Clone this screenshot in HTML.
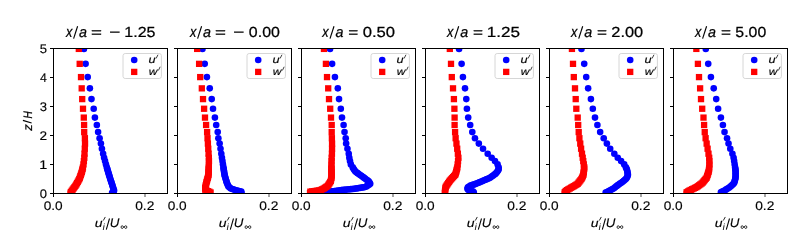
<!DOCTYPE html><html><head><meta charset="utf-8"><style>html,body{margin:0;padding:0;background:#fff;overflow:hidden}svg{display:block;will-change:transform}text{font-family:"Liberation Sans",sans-serif;fill:#000;stroke:#000;stroke-width:0.14px;text-rendering:geometricPrecision}.tt text{stroke-width:0.24px}</style></head><body>
<svg width="800" height="236" viewBox="0 0 800 236">
<defs><clipPath id="c0"><rect x="53.5" y="48.5" width="114" height="145"/></clipPath></defs>
<g clip-path="url(#c0)"><g fill="#0000ff"><circle cx="83.94" cy="48.90" r="3.3"/><circle cx="85.61" cy="63.85" r="3.3"/><circle cx="87.72" cy="77.10" r="3.3"/><circle cx="89.89" cy="88.35" r="3.3"/><circle cx="91.50" cy="99.10" r="3.3"/><circle cx="93.71" cy="108.75" r="3.3"/><circle cx="94.90" cy="117.60" r="3.3"/><circle cx="96.84" cy="125.00" r="3.3"/><circle cx="98.10" cy="132.10" r="3.3"/><circle cx="99.60" cy="138.20" r="3.3"/><circle cx="100.92" cy="143.60" r="3.3"/><circle cx="101.92" cy="148.70" r="3.3"/><circle cx="103.13" cy="153.70" r="3.3"/><circle cx="104.11" cy="157.75" r="3.3"/><circle cx="105.04" cy="161.10" r="3.3"/><circle cx="105.96" cy="164.40" r="3.3"/><circle cx="106.82" cy="167.40" r="3.3"/><circle cx="107.25" cy="168.85" r="3.3"/><circle cx="107.68" cy="170.30" r="3.3"/><circle cx="108.11" cy="171.75" r="3.3"/><circle cx="108.54" cy="173.20" r="3.3"/><circle cx="108.98" cy="174.65" r="3.3"/><circle cx="109.42" cy="176.10" r="3.3"/><circle cx="109.85" cy="177.55" r="3.3"/><circle cx="110.30" cy="179.00" r="3.3"/><circle cx="110.78" cy="180.45" r="3.3"/><circle cx="111.27" cy="181.90" r="3.3"/><circle cx="111.75" cy="183.35" r="3.3"/><circle cx="112.23" cy="184.80" r="3.3"/><circle cx="112.68" cy="186.25" r="3.3"/><circle cx="113.11" cy="187.70" r="3.3"/><circle cx="113.55" cy="189.15" r="3.3"/><circle cx="114.08" cy="190.60" r="3.3"/><circle cx="113.46" cy="192.05" r="3.3"/><circle cx="112.10" cy="192.85" r="3.3"/></g><g fill="#ff0000"><rect x="75.67" y="45.75" width="6.3" height="6.3"/><rect x="76.55" y="60.70" width="6.3" height="6.3"/><rect x="77.86" y="73.95" width="6.3" height="6.3"/><rect x="78.55" y="85.20" width="6.3" height="6.3"/><rect x="79.06" y="95.95" width="6.3" height="6.3"/><rect x="79.85" y="105.60" width="6.3" height="6.3"/><rect x="80.65" y="114.45" width="6.3" height="6.3"/><rect x="80.95" y="121.85" width="6.3" height="6.3"/><rect x="81.06" y="128.95" width="6.3" height="6.3"/><rect x="81.75" y="135.05" width="6.3" height="6.3"/><rect x="81.88" y="140.45" width="6.3" height="6.3"/><rect x="81.65" y="145.55" width="6.3" height="6.3"/><rect x="81.37" y="150.55" width="6.3" height="6.3"/><rect x="81.14" y="154.60" width="6.3" height="6.3"/><rect x="80.74" y="157.95" width="6.3" height="6.3"/><rect x="80.34" y="161.25" width="6.3" height="6.3"/><rect x="79.80" y="164.25" width="6.3" height="6.3"/><rect x="79.42" y="165.75" width="6.3" height="6.3"/><rect x="79.05" y="167.25" width="6.3" height="6.3"/><rect x="78.67" y="168.75" width="6.3" height="6.3"/><rect x="78.22" y="170.20" width="6.3" height="6.3"/><rect x="77.71" y="171.65" width="6.3" height="6.3"/><rect x="77.21" y="173.10" width="6.3" height="6.3"/><rect x="76.70" y="174.55" width="6.3" height="6.3"/><rect x="76.13" y="175.95" width="6.3" height="6.3"/><rect x="75.38" y="177.30" width="6.3" height="6.3"/><rect x="74.63" y="178.65" width="6.3" height="6.3"/><rect x="73.88" y="180.00" width="6.3" height="6.3"/><rect x="73.13" y="181.35" width="6.3" height="6.3"/><rect x="72.27" y="182.65" width="6.3" height="6.3"/><rect x="71.36" y="183.90" width="6.3" height="6.3"/><rect x="70.46" y="185.15" width="6.3" height="6.3"/><rect x="69.54" y="186.40" width="6.3" height="6.3"/><rect x="68.61" y="187.65" width="6.3" height="6.3"/><rect x="67.68" y="188.90" width="6.3" height="6.3"/><rect x="67.35" y="190.40" width="6.3" height="6.3"/></g></g>
<rect x="53.5" y="48.5" width="114" height="145" fill="none" stroke="#000" stroke-width="1"/>
<line x1="50.0" y1="193.5" x2="53.5" y2="193.5" stroke="#000" stroke-width="1"/>
<line x1="50.0" y1="164.5" x2="53.5" y2="164.5" stroke="#000" stroke-width="1"/>
<line x1="50.0" y1="135.5" x2="53.5" y2="135.5" stroke="#000" stroke-width="1"/>
<line x1="50.0" y1="106.5" x2="53.5" y2="106.5" stroke="#000" stroke-width="1"/>
<line x1="50.0" y1="77.5" x2="53.5" y2="77.5" stroke="#000" stroke-width="1"/>
<line x1="50.0" y1="48.5" x2="53.5" y2="48.5" stroke="#000" stroke-width="1"/>
<line x1="53.50" y1="193.5" x2="53.50" y2="197" stroke="#000" stroke-width="1"/>
<text transform="translate(43.70,209.90) scale(1.091,1)" font-size="12.50">0.0</text>
<line x1="145.00" y1="193.5" x2="145.00" y2="197" stroke="#000" stroke-width="0.7"/>
<text transform="translate(135.20,209.90) scale(1.102,1)" font-size="12.50">0.2</text>
<g class="tt">
<text transform="translate(65.91,36.90) scale(0.826,1)" font-size="15.36" font-style="italic">x</text>
<line x1="73.60" y1="38.6" x2="77.60" y2="26.3" stroke="#000" stroke-width="1.15"/>
<text transform="translate(79.08,36.75) scale(0.973,1)" font-size="14.79" font-style="italic">a</text>
<text transform="translate(91.06,36.79) scale(1.345,1)" font-size="13.95">=</text>
<text transform="translate(109.15,37.42) scale(1.310,1)" font-size="14.48">−</text>
<text transform="translate(124.30,36.75) scale(1.100,1)" font-size="14.56">1.25</text>
</g>
<text transform="translate(94.80,227.38) scale(1.177,1)" font-size="11.91" font-style="italic">u</text>
<path d="M103.50,220.2 L105.10,217.3" stroke="#000" stroke-width="0.85" stroke-linecap="round" fill="none"/>
<text transform="translate(102.75,230.30) scale(0.932,1)" font-size="8.97" font-style="italic">i</text>
<line x1="106.30" y1="229.7" x2="109.50" y2="218.5" stroke="#000" stroke-width="1.05"/>
<text transform="translate(109.80,227.38) scale(1.069,1)" font-size="12.47" font-style="italic">U</text>
<path d="M123.95,227.1 C122.75,225.3 121.05,225.3 121.05,227.1 C121.05,228.9 122.75,228.9 123.95,227.1 C125.15,225.3 126.85,225.3 126.85,227.1 C126.85,228.9 125.15,228.9 123.95,227.1 Z" stroke="#000" stroke-width="0.8" fill="none"/>
<rect x="123.00" y="53.5" width="38.4" height="25.0" rx="2.2" fill="#fff" fill-opacity="0.8" stroke="#d6d6d6" stroke-width="1"/>
<circle cx="134.20" cy="60" r="3.3" fill="#0000ff"/>
<rect x="131.05" y="68.75" width="6.3" height="6.3" fill="#ff0000"/>
<text transform="translate(148.56,62.80) scale(1.228,1)" font-size="10.42" font-style="italic">u</text>
<path d="M156.30,58.1 L157.80,55.1" stroke="#000" stroke-width="0.75" stroke-linecap="round" fill="none"/>
<text transform="translate(148.80,74.80) scale(1.151,1)" font-size="10.43" font-style="italic">w</text>
<path d="M158.60,70.1 L160.00,67.1" stroke="#000" stroke-width="0.75" stroke-linecap="round" fill="none"/>
<defs><clipPath id="c1"><rect x="177.5" y="48.5" width="114" height="145"/></clipPath></defs>
<g clip-path="url(#c1)"><g fill="#0000ff"><circle cx="202.46" cy="48.90" r="3.3"/><circle cx="204.72" cy="63.85" r="3.3"/><circle cx="206.93" cy="77.10" r="3.3"/><circle cx="209.73" cy="88.35" r="3.3"/><circle cx="211.71" cy="99.10" r="3.3"/><circle cx="213.01" cy="108.75" r="3.3"/><circle cx="214.90" cy="117.60" r="3.3"/><circle cx="216.20" cy="125.00" r="3.3"/><circle cx="217.70" cy="132.10" r="3.3"/><circle cx="218.37" cy="138.20" r="3.3"/><circle cx="219.63" cy="143.60" r="3.3"/><circle cx="220.52" cy="148.70" r="3.3"/><circle cx="221.31" cy="153.70" r="3.3"/><circle cx="221.94" cy="157.75" r="3.3"/><circle cx="222.47" cy="161.10" r="3.3"/><circle cx="222.97" cy="164.40" r="3.3"/><circle cx="223.42" cy="167.40" r="3.3"/><circle cx="223.65" cy="168.90" r="3.3"/><circle cx="223.87" cy="170.40" r="3.3"/><circle cx="224.10" cy="171.90" r="3.3"/><circle cx="224.33" cy="173.40" r="3.3"/><circle cx="224.55" cy="174.90" r="3.3"/><circle cx="224.94" cy="176.35" r="3.3"/><circle cx="225.37" cy="177.80" r="3.3"/><circle cx="225.79" cy="179.25" r="3.3"/><circle cx="226.22" cy="180.70" r="3.3"/><circle cx="226.65" cy="182.15" r="3.3"/><circle cx="227.17" cy="183.60" r="3.3"/><circle cx="227.81" cy="185.00" r="3.3"/><circle cx="228.45" cy="186.40" r="3.3"/><circle cx="229.63" cy="187.45" r="3.3"/><circle cx="230.82" cy="188.45" r="3.3"/><circle cx="232.32" cy="189.05" r="3.3"/><circle cx="233.79" cy="189.55" r="3.3"/><circle cx="235.26" cy="190.05" r="3.3"/><circle cx="236.85" cy="190.50" r="3.3"/><circle cx="238.33" cy="190.85" r="3.3"/><circle cx="239.81" cy="191.20" r="3.3"/><circle cx="241.29" cy="191.55" r="3.3"/><circle cx="241.50" cy="193.05" r="3.3"/></g><g fill="#ff0000"><rect x="194.00" y="45.75" width="6.3" height="6.3"/><rect x="195.96" y="60.70" width="6.3" height="6.3"/><rect x="197.06" y="73.95" width="6.3" height="6.3"/><rect x="198.67" y="85.20" width="6.3" height="6.3"/><rect x="199.86" y="95.95" width="6.3" height="6.3"/><rect x="200.96" y="105.60" width="6.3" height="6.3"/><rect x="201.85" y="114.45" width="6.3" height="6.3"/><rect x="202.95" y="121.85" width="6.3" height="6.3"/><rect x="203.96" y="128.95" width="6.3" height="6.3"/><rect x="204.38" y="135.05" width="6.3" height="6.3"/><rect x="204.75" y="140.45" width="6.3" height="6.3"/><rect x="205.10" y="145.55" width="6.3" height="6.3"/><rect x="205.43" y="150.55" width="6.3" height="6.3"/><rect x="205.70" y="154.60" width="6.3" height="6.3"/><rect x="205.81" y="157.95" width="6.3" height="6.3"/><rect x="205.71" y="161.25" width="6.3" height="6.3"/><rect x="205.61" y="164.25" width="6.3" height="6.3"/><rect x="205.56" y="165.75" width="6.3" height="6.3"/><rect x="205.51" y="167.25" width="6.3" height="6.3"/><rect x="205.46" y="168.75" width="6.3" height="6.3"/><rect x="205.41" y="170.25" width="6.3" height="6.3"/><rect x="205.36" y="171.75" width="6.3" height="6.3"/><rect x="205.01" y="173.25" width="6.3" height="6.3"/><rect x="204.60" y="174.70" width="6.3" height="6.3"/><rect x="204.19" y="176.15" width="6.3" height="6.3"/><rect x="203.78" y="177.60" width="6.3" height="6.3"/><rect x="203.38" y="179.05" width="6.3" height="6.3"/><rect x="202.99" y="180.55" width="6.3" height="6.3"/><rect x="202.66" y="182.05" width="6.3" height="6.3"/><rect x="202.33" y="183.55" width="6.3" height="6.3"/><rect x="202.01" y="185.05" width="6.3" height="6.3"/><rect x="202.07" y="186.55" width="6.3" height="6.3"/><rect x="203.37" y="187.35" width="6.3" height="6.3"/><rect x="204.75" y="188.00" width="6.3" height="6.3"/><rect x="206.16" y="188.55" width="6.3" height="6.3"/><rect x="207.45" y="189.35" width="6.3" height="6.3"/></g></g>
<rect x="177.5" y="48.5" width="114" height="145" fill="none" stroke="#000" stroke-width="1"/>
<line x1="174.0" y1="193.5" x2="177.5" y2="193.5" stroke="#000" stroke-width="1"/>
<line x1="174.0" y1="164.5" x2="177.5" y2="164.5" stroke="#000" stroke-width="1"/>
<line x1="174.0" y1="135.5" x2="177.5" y2="135.5" stroke="#000" stroke-width="1"/>
<line x1="174.0" y1="106.5" x2="177.5" y2="106.5" stroke="#000" stroke-width="1"/>
<line x1="174.0" y1="77.5" x2="177.5" y2="77.5" stroke="#000" stroke-width="1"/>
<line x1="174.0" y1="48.5" x2="177.5" y2="48.5" stroke="#000" stroke-width="1"/>
<line x1="177.50" y1="193.5" x2="177.50" y2="197" stroke="#000" stroke-width="1"/>
<text transform="translate(167.70,209.90) scale(1.091,1)" font-size="12.50">0.0</text>
<line x1="269.00" y1="193.5" x2="269.00" y2="197" stroke="#000" stroke-width="0.7"/>
<text transform="translate(259.20,209.90) scale(1.102,1)" font-size="12.50">0.2</text>
<g class="tt">
<text transform="translate(189.91,36.90) scale(0.826,1)" font-size="15.36" font-style="italic">x</text>
<line x1="197.60" y1="38.6" x2="201.60" y2="26.3" stroke="#000" stroke-width="1.15"/>
<text transform="translate(203.08,36.75) scale(0.973,1)" font-size="14.79" font-style="italic">a</text>
<text transform="translate(215.06,36.79) scale(1.345,1)" font-size="13.95">=</text>
<text transform="translate(233.15,37.42) scale(1.310,1)" font-size="14.48">−</text>
<text transform="translate(248.86,36.75) scale(1.096,1)" font-size="14.56">0.00</text>
</g>
<text transform="translate(218.80,227.38) scale(1.177,1)" font-size="11.91" font-style="italic">u</text>
<path d="M227.50,220.2 L229.10,217.3" stroke="#000" stroke-width="0.85" stroke-linecap="round" fill="none"/>
<text transform="translate(226.75,230.30) scale(0.932,1)" font-size="8.97" font-style="italic">i</text>
<line x1="230.30" y1="229.7" x2="233.50" y2="218.5" stroke="#000" stroke-width="1.05"/>
<text transform="translate(233.80,227.38) scale(1.069,1)" font-size="12.47" font-style="italic">U</text>
<path d="M247.95,227.1 C246.75,225.3 245.05,225.3 245.05,227.1 C245.05,228.9 246.75,228.9 247.95,227.1 C249.15,225.3 250.85,225.3 250.85,227.1 C250.85,228.9 249.15,228.9 247.95,227.1 Z" stroke="#000" stroke-width="0.8" fill="none"/>
<rect x="247.00" y="53.5" width="38.4" height="25.0" rx="2.2" fill="#fff" fill-opacity="0.8" stroke="#d6d6d6" stroke-width="1"/>
<circle cx="258.20" cy="60" r="3.3" fill="#0000ff"/>
<rect x="255.05" y="68.75" width="6.3" height="6.3" fill="#ff0000"/>
<text transform="translate(272.56,62.80) scale(1.228,1)" font-size="10.42" font-style="italic">u</text>
<path d="M280.30,58.1 L281.80,55.1" stroke="#000" stroke-width="0.75" stroke-linecap="round" fill="none"/>
<text transform="translate(272.80,74.80) scale(1.151,1)" font-size="10.43" font-style="italic">w</text>
<path d="M282.60,70.1 L284.00,67.1" stroke="#000" stroke-width="0.75" stroke-linecap="round" fill="none"/>
<defs><clipPath id="c2"><rect x="301.5" y="48.5" width="114" height="145"/></clipPath></defs>
<g clip-path="url(#c2)"><g fill="#0000ff"><circle cx="330.06" cy="48.90" r="3.3"/><circle cx="332.13" cy="63.85" r="3.3"/><circle cx="334.93" cy="77.10" r="3.3"/><circle cx="337.82" cy="88.35" r="3.3"/><circle cx="339.02" cy="99.10" r="3.3"/><circle cx="340.81" cy="108.75" r="3.3"/><circle cx="342.00" cy="117.60" r="3.3"/><circle cx="343.60" cy="125.00" r="3.3"/><circle cx="344.52" cy="132.10" r="3.3"/><circle cx="345.71" cy="138.20" r="3.3"/><circle cx="346.13" cy="143.60" r="3.3"/><circle cx="347.46" cy="148.70" r="3.3"/><circle cx="348.75" cy="153.70" r="3.3"/><circle cx="349.31" cy="157.75" r="3.3"/><circle cx="350.00" cy="161.10" r="3.3"/><circle cx="350.85" cy="164.40" r="3.3"/><circle cx="352.73" cy="167.40" r="3.3"/><circle cx="353.55" cy="168.70" r="3.3"/><circle cx="354.36" cy="170.00" r="3.3"/><circle cx="355.17" cy="171.30" r="3.3"/><circle cx="356.35" cy="172.25" r="3.3"/><circle cx="357.61" cy="173.15" r="3.3"/><circle cx="358.87" cy="174.05" r="3.3"/><circle cx="360.13" cy="174.95" r="3.3"/><circle cx="361.39" cy="175.85" r="3.3"/><circle cx="362.65" cy="176.75" r="3.3"/><circle cx="363.87" cy="177.65" r="3.3"/><circle cx="365.07" cy="178.55" r="3.3"/><circle cx="366.27" cy="179.45" r="3.3"/><circle cx="367.47" cy="180.35" r="3.3"/><circle cx="368.67" cy="181.25" r="3.3"/><circle cx="369.52" cy="182.50" r="3.3"/><circle cx="370.22" cy="183.85" r="3.3"/><circle cx="369.02" cy="184.80" r="3.3"/><circle cx="367.74" cy="185.60" r="3.3"/><circle cx="366.46" cy="186.40" r="3.3"/><circle cx="364.88" cy="187.10" r="3.3"/><circle cx="363.34" cy="187.35" r="3.3"/><circle cx="361.80" cy="187.60" r="3.3"/><circle cx="360.26" cy="187.85" r="3.3"/><circle cx="358.72" cy="188.10" r="3.3"/><circle cx="357.17" cy="188.35" r="3.3"/><circle cx="355.63" cy="188.60" r="3.3"/><circle cx="353.89" cy="188.85" r="3.3"/><circle cx="352.34" cy="189.00" r="3.3"/><circle cx="350.80" cy="189.15" r="3.3"/><circle cx="349.26" cy="189.30" r="3.3"/><circle cx="347.71" cy="189.45" r="3.3"/><circle cx="346.17" cy="189.60" r="3.3"/><circle cx="344.63" cy="189.75" r="3.3"/><circle cx="343.09" cy="189.90" r="3.3"/><circle cx="341.54" cy="190.05" r="3.3"/><circle cx="340.00" cy="190.20" r="3.3"/><circle cx="338.18" cy="190.45" r="3.3"/><circle cx="336.36" cy="190.70" r="3.3"/><circle cx="334.55" cy="190.95" r="3.3"/><circle cx="332.73" cy="191.20" r="3.3"/><circle cx="331.23" cy="191.40" r="3.3"/><circle cx="329.69" cy="191.60" r="3.3"/><circle cx="328.15" cy="191.80" r="3.3"/><circle cx="326.62" cy="192.00" r="3.3"/><circle cx="325.08" cy="192.20" r="3.3"/><circle cx="323.54" cy="192.40" r="3.3"/><circle cx="322.00" cy="192.60" r="3.3"/></g><g fill="#ff0000"><rect x="320.80" y="45.75" width="6.3" height="6.3"/><rect x="322.76" y="60.70" width="6.3" height="6.3"/><rect x="323.86" y="73.95" width="6.3" height="6.3"/><rect x="325.06" y="85.20" width="6.3" height="6.3"/><rect x="325.86" y="95.95" width="6.3" height="6.3"/><rect x="327.05" y="105.60" width="6.3" height="6.3"/><rect x="327.85" y="114.45" width="6.3" height="6.3"/><rect x="328.55" y="121.85" width="6.3" height="6.3"/><rect x="328.55" y="128.95" width="6.3" height="6.3"/><rect x="328.74" y="135.05" width="6.3" height="6.3"/><rect x="328.91" y="140.45" width="6.3" height="6.3"/><rect x="328.90" y="145.55" width="6.3" height="6.3"/><rect x="328.79" y="150.55" width="6.3" height="6.3"/><rect x="328.55" y="154.60" width="6.3" height="6.3"/><rect x="328.43" y="157.95" width="6.3" height="6.3"/><rect x="328.31" y="161.25" width="6.3" height="6.3"/><rect x="328.28" y="164.25" width="6.3" height="6.3"/><rect x="328.30" y="165.75" width="6.3" height="6.3"/><rect x="328.33" y="167.25" width="6.3" height="6.3"/><rect x="328.36" y="168.75" width="6.3" height="6.3"/><rect x="328.38" y="170.25" width="6.3" height="6.3"/><rect x="328.41" y="171.75" width="6.3" height="6.3"/><rect x="328.44" y="173.25" width="6.3" height="6.3"/><rect x="328.27" y="174.75" width="6.3" height="6.3"/><rect x="327.96" y="176.25" width="6.3" height="6.3"/><rect x="327.65" y="177.75" width="6.3" height="6.3"/><rect x="326.98" y="179.10" width="6.3" height="6.3"/><rect x="326.13" y="180.35" width="6.3" height="6.3"/><rect x="325.29" y="181.60" width="6.3" height="6.3"/><rect x="324.45" y="182.85" width="6.3" height="6.3"/><rect x="323.15" y="183.70" width="6.3" height="6.3"/><rect x="321.84" y="184.55" width="6.3" height="6.3"/><rect x="320.54" y="185.40" width="6.3" height="6.3"/><rect x="319.16" y="186.15" width="6.3" height="6.3"/><rect x="317.77" y="186.75" width="6.3" height="6.3"/><rect x="316.14" y="187.25" width="6.3" height="6.3"/><rect x="314.35" y="187.50" width="6.3" height="6.3"/><rect x="312.56" y="187.75" width="6.3" height="6.3"/><rect x="310.78" y="188.00" width="6.3" height="6.3"/><rect x="308.99" y="188.25" width="6.3" height="6.3"/><rect x="307.21" y="188.50" width="6.3" height="6.3"/><rect x="306.85" y="190.00" width="6.3" height="6.3"/></g></g>
<rect x="301.5" y="48.5" width="114" height="145" fill="none" stroke="#000" stroke-width="1"/>
<line x1="298.0" y1="193.5" x2="301.5" y2="193.5" stroke="#000" stroke-width="1"/>
<line x1="298.0" y1="164.5" x2="301.5" y2="164.5" stroke="#000" stroke-width="1"/>
<line x1="298.0" y1="135.5" x2="301.5" y2="135.5" stroke="#000" stroke-width="1"/>
<line x1="298.0" y1="106.5" x2="301.5" y2="106.5" stroke="#000" stroke-width="1"/>
<line x1="298.0" y1="77.5" x2="301.5" y2="77.5" stroke="#000" stroke-width="1"/>
<line x1="298.0" y1="48.5" x2="301.5" y2="48.5" stroke="#000" stroke-width="1"/>
<line x1="301.50" y1="193.5" x2="301.50" y2="197" stroke="#000" stroke-width="1"/>
<text transform="translate(291.70,209.90) scale(1.091,1)" font-size="12.50">0.0</text>
<line x1="393.00" y1="193.5" x2="393.00" y2="197" stroke="#000" stroke-width="0.7"/>
<text transform="translate(383.20,209.90) scale(1.102,1)" font-size="12.50">0.2</text>
<g class="tt">
<text transform="translate(322.31,36.90) scale(0.826,1)" font-size="15.36" font-style="italic">x</text>
<line x1="330.00" y1="38.6" x2="334.00" y2="26.3" stroke="#000" stroke-width="1.15"/>
<text transform="translate(335.48,36.75) scale(0.973,1)" font-size="14.79" font-style="italic">a</text>
<text transform="translate(348.34,36.79) scale(1.226,1)" font-size="13.95">=</text>
<text transform="translate(362.73,36.75) scale(1.144,1)" font-size="14.56">0.50</text>
</g>
<text transform="translate(342.80,227.38) scale(1.177,1)" font-size="11.91" font-style="italic">u</text>
<path d="M351.50,220.2 L353.10,217.3" stroke="#000" stroke-width="0.85" stroke-linecap="round" fill="none"/>
<text transform="translate(350.75,230.30) scale(0.932,1)" font-size="8.97" font-style="italic">i</text>
<line x1="354.30" y1="229.7" x2="357.50" y2="218.5" stroke="#000" stroke-width="1.05"/>
<text transform="translate(357.80,227.38) scale(1.069,1)" font-size="12.47" font-style="italic">U</text>
<path d="M371.95,227.1 C370.75,225.3 369.05,225.3 369.05,227.1 C369.05,228.9 370.75,228.9 371.95,227.1 C373.15,225.3 374.85,225.3 374.85,227.1 C374.85,228.9 373.15,228.9 371.95,227.1 Z" stroke="#000" stroke-width="0.8" fill="none"/>
<rect x="371.00" y="53.5" width="38.4" height="25.0" rx="2.2" fill="#fff" fill-opacity="0.8" stroke="#d6d6d6" stroke-width="1"/>
<circle cx="382.20" cy="60" r="3.3" fill="#0000ff"/>
<rect x="379.05" y="68.75" width="6.3" height="6.3" fill="#ff0000"/>
<text transform="translate(396.56,62.80) scale(1.228,1)" font-size="10.42" font-style="italic">u</text>
<path d="M404.30,58.1 L405.80,55.1" stroke="#000" stroke-width="0.75" stroke-linecap="round" fill="none"/>
<text transform="translate(396.80,74.80) scale(1.151,1)" font-size="10.43" font-style="italic">w</text>
<path d="M406.60,70.1 L408.00,67.1" stroke="#000" stroke-width="0.75" stroke-linecap="round" fill="none"/>
<defs><clipPath id="c3"><rect x="425.5" y="48.5" width="114" height="145"/></clipPath></defs>
<g clip-path="url(#c3)"><g fill="#0000ff"><circle cx="459.07" cy="48.90" r="3.3"/><circle cx="461.61" cy="63.85" r="3.3"/><circle cx="462.92" cy="77.10" r="3.3"/><circle cx="465.02" cy="88.35" r="3.3"/><circle cx="466.30" cy="99.10" r="3.3"/><circle cx="466.91" cy="108.75" r="3.3"/><circle cx="468.20" cy="117.60" r="3.3"/><circle cx="470.20" cy="125.00" r="3.3"/><circle cx="472.30" cy="132.10" r="3.3"/><circle cx="474.96" cy="138.20" r="3.3"/><circle cx="478.83" cy="143.60" r="3.3"/><circle cx="483.02" cy="148.70" r="3.3"/><circle cx="487.70" cy="153.70" r="3.3"/><circle cx="491.66" cy="157.75" r="3.3"/><circle cx="495.00" cy="161.10" r="3.3"/><circle cx="497.59" cy="164.40" r="3.3"/><circle cx="498.63" cy="167.40" r="3.3"/><circle cx="498.66" cy="168.90" r="3.3"/><circle cx="498.24" cy="170.35" r="3.3"/><circle cx="497.32" cy="171.60" r="3.3"/><circle cx="496.40" cy="172.85" r="3.3"/><circle cx="495.32" cy="173.90" r="3.3"/><circle cx="494.09" cy="174.80" r="3.3"/><circle cx="492.86" cy="175.70" r="3.3"/><circle cx="491.64" cy="176.60" r="3.3"/><circle cx="490.41" cy="177.50" r="3.3"/><circle cx="489.07" cy="178.20" r="3.3"/><circle cx="487.67" cy="178.80" r="3.3"/><circle cx="486.27" cy="179.40" r="3.3"/><circle cx="484.87" cy="180.00" r="3.3"/><circle cx="483.47" cy="180.60" r="3.3"/><circle cx="482.07" cy="181.20" r="3.3"/><circle cx="480.67" cy="181.80" r="3.3"/><circle cx="479.27" cy="182.40" r="3.3"/><circle cx="477.87" cy="183.00" r="3.3"/><circle cx="476.47" cy="183.60" r="3.3"/><circle cx="474.95" cy="184.15" r="3.3"/><circle cx="473.45" cy="184.65" r="3.3"/><circle cx="471.95" cy="185.15" r="3.3"/><circle cx="470.45" cy="185.65" r="3.3"/><circle cx="469.11" cy="186.45" r="3.3"/><circle cx="467.89" cy="187.35" r="3.3"/><circle cx="467.40" cy="188.80" r="3.3"/><circle cx="468.37" cy="190.10" r="3.3"/><circle cx="469.83" cy="190.50" r="3.3"/><circle cx="471.30" cy="190.90" r="3.3"/><circle cx="472.77" cy="191.30" r="3.3"/><circle cx="473.80" cy="192.40" r="3.3"/></g><g fill="#ff0000"><rect x="446.68" y="45.75" width="6.3" height="6.3"/><rect x="447.86" y="60.70" width="6.3" height="6.3"/><rect x="448.65" y="73.95" width="6.3" height="6.3"/><rect x="449.86" y="85.20" width="6.3" height="6.3"/><rect x="450.76" y="95.95" width="6.3" height="6.3"/><rect x="451.25" y="105.60" width="6.3" height="6.3"/><rect x="451.45" y="114.45" width="6.3" height="6.3"/><rect x="451.45" y="121.85" width="6.3" height="6.3"/><rect x="451.94" y="128.95" width="6.3" height="6.3"/><rect x="452.49" y="135.05" width="6.3" height="6.3"/><rect x="453.30" y="140.45" width="6.3" height="6.3"/><rect x="454.05" y="145.55" width="6.3" height="6.3"/><rect x="454.71" y="150.55" width="6.3" height="6.3"/><rect x="455.24" y="154.60" width="6.3" height="6.3"/><rect x="454.89" y="157.95" width="6.3" height="6.3"/><rect x="454.54" y="161.25" width="6.3" height="6.3"/><rect x="454.20" y="164.25" width="6.3" height="6.3"/><rect x="453.80" y="165.75" width="6.3" height="6.3"/><rect x="453.41" y="167.25" width="6.3" height="6.3"/><rect x="453.01" y="168.75" width="6.3" height="6.3"/><rect x="452.61" y="170.25" width="6.3" height="6.3"/><rect x="451.99" y="171.65" width="6.3" height="6.3"/><rect x="450.95" y="172.80" width="6.3" height="6.3"/><rect x="449.91" y="173.95" width="6.3" height="6.3"/><rect x="448.87" y="175.10" width="6.3" height="6.3"/><rect x="447.83" y="176.25" width="6.3" height="6.3"/><rect x="446.79" y="177.40" width="6.3" height="6.3"/><rect x="445.92" y="178.65" width="6.3" height="6.3"/><rect x="445.08" y="179.90" width="6.3" height="6.3"/><rect x="444.25" y="181.15" width="6.3" height="6.3"/><rect x="443.42" y="182.40" width="6.3" height="6.3"/><rect x="442.58" y="183.65" width="6.3" height="6.3"/><rect x="442.28" y="185.15" width="6.3" height="6.3"/><rect x="442.08" y="186.65" width="6.3" height="6.3"/><rect x="441.88" y="188.15" width="6.3" height="6.3"/><rect x="441.68" y="189.65" width="6.3" height="6.3"/></g></g>
<rect x="425.5" y="48.5" width="114" height="145" fill="none" stroke="#000" stroke-width="1"/>
<line x1="422.0" y1="193.5" x2="425.5" y2="193.5" stroke="#000" stroke-width="1"/>
<line x1="422.0" y1="164.5" x2="425.5" y2="164.5" stroke="#000" stroke-width="1"/>
<line x1="422.0" y1="135.5" x2="425.5" y2="135.5" stroke="#000" stroke-width="1"/>
<line x1="422.0" y1="106.5" x2="425.5" y2="106.5" stroke="#000" stroke-width="1"/>
<line x1="422.0" y1="77.5" x2="425.5" y2="77.5" stroke="#000" stroke-width="1"/>
<line x1="422.0" y1="48.5" x2="425.5" y2="48.5" stroke="#000" stroke-width="1"/>
<line x1="425.50" y1="193.5" x2="425.50" y2="197" stroke="#000" stroke-width="1"/>
<text transform="translate(415.70,209.90) scale(1.091,1)" font-size="12.50">0.0</text>
<line x1="517.00" y1="193.5" x2="517.00" y2="197" stroke="#000" stroke-width="0.7"/>
<text transform="translate(507.20,209.90) scale(1.102,1)" font-size="12.50">0.2</text>
<g class="tt">
<text transform="translate(447.01,36.90) scale(0.826,1)" font-size="15.36" font-style="italic">x</text>
<line x1="454.70" y1="38.6" x2="458.70" y2="26.3" stroke="#000" stroke-width="1.15"/>
<text transform="translate(460.18,36.75) scale(0.973,1)" font-size="14.79" font-style="italic">a</text>
<text transform="translate(473.04,36.79) scale(1.226,1)" font-size="13.95">=</text>
<text transform="translate(486.82,36.75) scale(1.175,1)" font-size="14.56">1.25</text>
</g>
<text transform="translate(466.80,227.38) scale(1.177,1)" font-size="11.91" font-style="italic">u</text>
<path d="M475.50,220.2 L477.10,217.3" stroke="#000" stroke-width="0.85" stroke-linecap="round" fill="none"/>
<text transform="translate(474.75,230.30) scale(0.932,1)" font-size="8.97" font-style="italic">i</text>
<line x1="478.30" y1="229.7" x2="481.50" y2="218.5" stroke="#000" stroke-width="1.05"/>
<text transform="translate(481.80,227.38) scale(1.069,1)" font-size="12.47" font-style="italic">U</text>
<path d="M495.95,227.1 C494.75,225.3 493.05,225.3 493.05,227.1 C493.05,228.9 494.75,228.9 495.95,227.1 C497.15,225.3 498.85,225.3 498.85,227.1 C498.85,228.9 497.15,228.9 495.95,227.1 Z" stroke="#000" stroke-width="0.8" fill="none"/>
<rect x="495.00" y="53.5" width="38.4" height="25.0" rx="2.2" fill="#fff" fill-opacity="0.8" stroke="#d6d6d6" stroke-width="1"/>
<circle cx="506.20" cy="60" r="3.3" fill="#0000ff"/>
<rect x="503.05" y="68.75" width="6.3" height="6.3" fill="#ff0000"/>
<text transform="translate(520.56,62.80) scale(1.228,1)" font-size="10.42" font-style="italic">u</text>
<path d="M528.30,58.1 L529.80,55.1" stroke="#000" stroke-width="0.75" stroke-linecap="round" fill="none"/>
<text transform="translate(520.80,74.80) scale(1.151,1)" font-size="10.43" font-style="italic">w</text>
<path d="M530.60,70.1 L532.00,67.1" stroke="#000" stroke-width="0.75" stroke-linecap="round" fill="none"/>
<defs><clipPath id="c4"><rect x="549.5" y="48.5" width="114" height="145"/></clipPath></defs>
<g clip-path="url(#c4)"><g fill="#0000ff"><circle cx="581.47" cy="48.90" r="3.3"/><circle cx="584.22" cy="63.85" r="3.3"/><circle cx="586.22" cy="77.10" r="3.3"/><circle cx="588.14" cy="88.35" r="3.3"/><circle cx="590.92" cy="99.10" r="3.3"/><circle cx="592.81" cy="108.75" r="3.3"/><circle cx="595.00" cy="117.60" r="3.3"/><circle cx="597.40" cy="125.00" r="3.3"/><circle cx="600.16" cy="132.10" r="3.3"/><circle cx="603.72" cy="138.20" r="3.3"/><circle cx="606.87" cy="143.60" r="3.3"/><circle cx="610.20" cy="148.70" r="3.3"/><circle cx="614.32" cy="153.70" r="3.3"/><circle cx="617.75" cy="157.75" r="3.3"/><circle cx="621.10" cy="161.10" r="3.3"/><circle cx="624.22" cy="164.40" r="3.3"/><circle cx="625.90" cy="167.40" r="3.3"/><circle cx="626.65" cy="168.75" r="3.3"/><circle cx="627.09" cy="170.20" r="3.3"/><circle cx="627.37" cy="171.70" r="3.3"/><circle cx="627.66" cy="173.20" r="3.3"/><circle cx="627.94" cy="174.70" r="3.3"/><circle cx="627.51" cy="176.15" r="3.3"/><circle cx="626.91" cy="177.55" r="3.3"/><circle cx="626.09" cy="178.85" r="3.3"/><circle cx="624.92" cy="179.85" r="3.3"/><circle cx="623.76" cy="180.85" r="3.3"/><circle cx="622.57" cy="181.80" r="3.3"/><circle cx="621.29" cy="182.70" r="3.3"/><circle cx="620.00" cy="183.60" r="3.3"/><circle cx="618.71" cy="184.50" r="3.3"/><circle cx="617.50" cy="185.40" r="3.3"/><circle cx="616.31" cy="186.35" r="3.3"/><circle cx="615.12" cy="187.30" r="3.3"/><circle cx="613.91" cy="188.25" r="3.3"/><circle cx="612.53" cy="189.00" r="3.3"/><circle cx="611.16" cy="189.75" r="3.3"/><circle cx="609.78" cy="190.50" r="3.3"/><circle cx="608.40" cy="191.25" r="3.3"/><circle cx="607.04" cy="191.95" r="3.3"/><circle cx="605.68" cy="192.65" r="3.3"/></g><g fill="#ff0000"><rect x="568.78" y="45.75" width="6.3" height="6.3"/><rect x="569.86" y="60.70" width="6.3" height="6.3"/><rect x="570.66" y="73.95" width="6.3" height="6.3"/><rect x="571.86" y="85.20" width="6.3" height="6.3"/><rect x="572.56" y="95.95" width="6.3" height="6.3"/><rect x="573.16" y="105.60" width="6.3" height="6.3"/><rect x="574.55" y="114.45" width="6.3" height="6.3"/><rect x="575.05" y="121.85" width="6.3" height="6.3"/><rect x="575.55" y="128.95" width="6.3" height="6.3"/><rect x="576.26" y="135.05" width="6.3" height="6.3"/><rect x="577.11" y="140.45" width="6.3" height="6.3"/><rect x="577.95" y="145.55" width="6.3" height="6.3"/><rect x="578.84" y="150.55" width="6.3" height="6.3"/><rect x="579.56" y="154.60" width="6.3" height="6.3"/><rect x="580.11" y="157.95" width="6.3" height="6.3"/><rect x="580.64" y="161.25" width="6.3" height="6.3"/><rect x="581.13" y="164.25" width="6.3" height="6.3"/><rect x="580.97" y="165.75" width="6.3" height="6.3"/><rect x="580.78" y="167.25" width="6.3" height="6.3"/><rect x="580.59" y="168.75" width="6.3" height="6.3"/><rect x="580.39" y="170.25" width="6.3" height="6.3"/><rect x="580.20" y="171.75" width="6.3" height="6.3"/><rect x="579.64" y="173.15" width="6.3" height="6.3"/><rect x="578.94" y="174.50" width="6.3" height="6.3"/><rect x="578.25" y="175.85" width="6.3" height="6.3"/><rect x="577.31" y="177.10" width="6.3" height="6.3"/><rect x="576.36" y="178.30" width="6.3" height="6.3"/><rect x="575.40" y="179.50" width="6.3" height="6.3"/><rect x="574.45" y="180.70" width="6.3" height="6.3"/><rect x="573.20" y="181.55" width="6.3" height="6.3"/><rect x="571.90" y="182.30" width="6.3" height="6.3"/><rect x="570.59" y="183.05" width="6.3" height="6.3"/><rect x="569.28" y="183.80" width="6.3" height="6.3"/><rect x="567.97" y="184.55" width="6.3" height="6.3"/><rect x="566.60" y="185.35" width="6.3" height="6.3"/><rect x="565.24" y="186.15" width="6.3" height="6.3"/><rect x="563.87" y="186.95" width="6.3" height="6.3"/><rect x="562.61" y="187.85" width="6.3" height="6.3"/><rect x="561.63" y="189.05" width="6.3" height="6.3"/><rect x="561.55" y="190.55" width="6.3" height="6.3"/></g></g>
<rect x="549.5" y="48.5" width="114" height="145" fill="none" stroke="#000" stroke-width="1"/>
<line x1="546.0" y1="193.5" x2="549.5" y2="193.5" stroke="#000" stroke-width="1"/>
<line x1="546.0" y1="164.5" x2="549.5" y2="164.5" stroke="#000" stroke-width="1"/>
<line x1="546.0" y1="135.5" x2="549.5" y2="135.5" stroke="#000" stroke-width="1"/>
<line x1="546.0" y1="106.5" x2="549.5" y2="106.5" stroke="#000" stroke-width="1"/>
<line x1="546.0" y1="77.5" x2="549.5" y2="77.5" stroke="#000" stroke-width="1"/>
<line x1="546.0" y1="48.5" x2="549.5" y2="48.5" stroke="#000" stroke-width="1"/>
<line x1="549.50" y1="193.5" x2="549.50" y2="197" stroke="#000" stroke-width="1"/>
<text transform="translate(539.70,209.90) scale(1.091,1)" font-size="12.50">0.0</text>
<line x1="641.00" y1="193.5" x2="641.00" y2="197" stroke="#000" stroke-width="0.7"/>
<text transform="translate(631.20,209.90) scale(1.102,1)" font-size="12.50">0.2</text>
<g class="tt">
<text transform="translate(571.01,36.90) scale(0.826,1)" font-size="15.36" font-style="italic">x</text>
<line x1="578.70" y1="38.6" x2="582.70" y2="26.3" stroke="#000" stroke-width="1.15"/>
<text transform="translate(584.18,36.75) scale(0.973,1)" font-size="14.79" font-style="italic">a</text>
<text transform="translate(597.04,36.79) scale(1.226,1)" font-size="13.95">=</text>
<text transform="translate(611.28,36.75) scale(1.128,1)" font-size="14.56">2.00</text>
</g>
<text transform="translate(590.80,227.38) scale(1.177,1)" font-size="11.91" font-style="italic">u</text>
<path d="M599.50,220.2 L601.10,217.3" stroke="#000" stroke-width="0.85" stroke-linecap="round" fill="none"/>
<text transform="translate(598.75,230.30) scale(0.932,1)" font-size="8.97" font-style="italic">i</text>
<line x1="602.30" y1="229.7" x2="605.50" y2="218.5" stroke="#000" stroke-width="1.05"/>
<text transform="translate(605.80,227.38) scale(1.069,1)" font-size="12.47" font-style="italic">U</text>
<path d="M619.95,227.1 C618.75,225.3 617.05,225.3 617.05,227.1 C617.05,228.9 618.75,228.9 619.95,227.1 C621.15,225.3 622.85,225.3 622.85,227.1 C622.85,228.9 621.15,228.9 619.95,227.1 Z" stroke="#000" stroke-width="0.8" fill="none"/>
<rect x="619.00" y="53.5" width="38.4" height="25.0" rx="2.2" fill="#fff" fill-opacity="0.8" stroke="#d6d6d6" stroke-width="1"/>
<circle cx="630.20" cy="60" r="3.3" fill="#0000ff"/>
<rect x="627.05" y="68.75" width="6.3" height="6.3" fill="#ff0000"/>
<text transform="translate(644.56,62.80) scale(1.228,1)" font-size="10.42" font-style="italic">u</text>
<path d="M652.30,58.1 L653.80,55.1" stroke="#000" stroke-width="0.75" stroke-linecap="round" fill="none"/>
<text transform="translate(644.80,74.80) scale(1.151,1)" font-size="10.43" font-style="italic">w</text>
<path d="M654.60,70.1 L656.00,67.1" stroke="#000" stroke-width="0.75" stroke-linecap="round" fill="none"/>
<defs><clipPath id="c5"><rect x="673.5" y="48.5" width="114" height="145"/></clipPath></defs>
<g clip-path="url(#c5)"><g fill="#0000ff"><circle cx="705.77" cy="48.90" r="3.3"/><circle cx="708.23" cy="63.85" r="3.3"/><circle cx="710.92" cy="77.10" r="3.3"/><circle cx="713.73" cy="88.35" r="3.3"/><circle cx="716.22" cy="99.10" r="3.3"/><circle cx="718.12" cy="108.75" r="3.3"/><circle cx="720.90" cy="117.60" r="3.3"/><circle cx="722.90" cy="125.00" r="3.3"/><circle cx="724.54" cy="132.10" r="3.3"/><circle cx="727.05" cy="138.20" r="3.3"/><circle cx="728.53" cy="143.60" r="3.3"/><circle cx="730.29" cy="148.70" r="3.3"/><circle cx="732.42" cy="153.70" r="3.3"/><circle cx="733.61" cy="157.75" r="3.3"/><circle cx="734.14" cy="161.10" r="3.3"/><circle cx="734.66" cy="164.40" r="3.3"/><circle cx="735.10" cy="167.40" r="3.3"/><circle cx="735.32" cy="168.90" r="3.3"/><circle cx="735.54" cy="170.40" r="3.3"/><circle cx="735.60" cy="171.90" r="3.3"/><circle cx="735.60" cy="173.40" r="3.3"/><circle cx="735.60" cy="174.90" r="3.3"/><circle cx="735.60" cy="176.40" r="3.3"/><circle cx="735.52" cy="177.90" r="3.3"/><circle cx="735.13" cy="179.40" r="3.3"/><circle cx="734.74" cy="180.90" r="3.3"/><circle cx="734.36" cy="182.40" r="3.3"/><circle cx="733.52" cy="183.65" r="3.3"/><circle cx="732.42" cy="184.70" r="3.3"/><circle cx="731.32" cy="185.75" r="3.3"/><circle cx="730.21" cy="186.80" r="3.3"/><circle cx="728.95" cy="187.70" r="3.3"/><circle cx="727.62" cy="188.55" r="3.3"/><circle cx="726.28" cy="189.40" r="3.3"/><circle cx="724.94" cy="190.25" r="3.3"/><circle cx="723.60" cy="190.95" r="3.3"/><circle cx="722.20" cy="191.65" r="3.3"/><circle cx="720.90" cy="192.40" r="3.3"/></g><g fill="#ff0000"><rect x="693.19" y="45.75" width="6.3" height="6.3"/><rect x="694.76" y="60.70" width="6.3" height="6.3"/><rect x="695.86" y="73.95" width="6.3" height="6.3"/><rect x="696.96" y="85.20" width="6.3" height="6.3"/><rect x="697.86" y="95.95" width="6.3" height="6.3"/><rect x="699.06" y="105.60" width="6.3" height="6.3"/><rect x="700.35" y="114.45" width="6.3" height="6.3"/><rect x="700.95" y="121.85" width="6.3" height="6.3"/><rect x="701.59" y="128.95" width="6.3" height="6.3"/><rect x="702.46" y="135.05" width="6.3" height="6.3"/><rect x="703.50" y="140.45" width="6.3" height="6.3"/><rect x="704.45" y="145.55" width="6.3" height="6.3"/><rect x="705.34" y="150.55" width="6.3" height="6.3"/><rect x="706.05" y="154.60" width="6.3" height="6.3"/><rect x="706.21" y="157.95" width="6.3" height="6.3"/><rect x="706.31" y="161.25" width="6.3" height="6.3"/><rect x="706.05" y="164.25" width="6.3" height="6.3"/><rect x="705.92" y="165.75" width="6.3" height="6.3"/><rect x="705.79" y="167.25" width="6.3" height="6.3"/><rect x="705.39" y="168.75" width="6.3" height="6.3"/><rect x="704.92" y="170.20" width="6.3" height="6.3"/><rect x="704.46" y="171.65" width="6.3" height="6.3"/><rect x="703.99" y="173.10" width="6.3" height="6.3"/><rect x="703.47" y="174.55" width="6.3" height="6.3"/><rect x="702.49" y="175.75" width="6.3" height="6.3"/><rect x="701.51" y="176.95" width="6.3" height="6.3"/><rect x="700.54" y="178.15" width="6.3" height="6.3"/><rect x="699.56" y="179.35" width="6.3" height="6.3"/><rect x="698.39" y="180.40" width="6.3" height="6.3"/><rect x="697.13" y="181.30" width="6.3" height="6.3"/><rect x="695.88" y="182.20" width="6.3" height="6.3"/><rect x="694.63" y="183.10" width="6.3" height="6.3"/><rect x="693.35" y="184.00" width="6.3" height="6.3"/><rect x="691.90" y="184.70" width="6.3" height="6.3"/><rect x="690.46" y="185.40" width="6.3" height="6.3"/><rect x="689.02" y="186.10" width="6.3" height="6.3"/><rect x="687.58" y="186.80" width="6.3" height="6.3"/><rect x="686.23" y="187.50" width="6.3" height="6.3"/><rect x="684.88" y="188.30" width="6.3" height="6.3"/><rect x="683.53" y="189.10" width="6.3" height="6.3"/><rect x="683.45" y="190.60" width="6.3" height="6.3"/></g></g>
<rect x="673.5" y="48.5" width="114" height="145" fill="none" stroke="#000" stroke-width="1"/>
<line x1="670.0" y1="193.5" x2="673.5" y2="193.5" stroke="#000" stroke-width="1"/>
<line x1="670.0" y1="164.5" x2="673.5" y2="164.5" stroke="#000" stroke-width="1"/>
<line x1="670.0" y1="135.5" x2="673.5" y2="135.5" stroke="#000" stroke-width="1"/>
<line x1="670.0" y1="106.5" x2="673.5" y2="106.5" stroke="#000" stroke-width="1"/>
<line x1="670.0" y1="77.5" x2="673.5" y2="77.5" stroke="#000" stroke-width="1"/>
<line x1="670.0" y1="48.5" x2="673.5" y2="48.5" stroke="#000" stroke-width="1"/>
<line x1="673.50" y1="193.5" x2="673.50" y2="197" stroke="#000" stroke-width="1"/>
<text transform="translate(663.70,209.90) scale(1.091,1)" font-size="12.50">0.0</text>
<line x1="765.00" y1="193.5" x2="765.00" y2="197" stroke="#000" stroke-width="0.7"/>
<text transform="translate(755.20,209.90) scale(1.102,1)" font-size="12.50">0.2</text>
<g class="tt">
<text transform="translate(694.91,36.90) scale(0.826,1)" font-size="15.36" font-style="italic">x</text>
<line x1="702.60" y1="38.6" x2="706.60" y2="26.3" stroke="#000" stroke-width="1.15"/>
<text transform="translate(708.08,36.75) scale(0.973,1)" font-size="14.79" font-style="italic">a</text>
<text transform="translate(720.94,36.79) scale(1.226,1)" font-size="13.95">=</text>
<text transform="translate(735.37,36.75) scale(1.089,1)" font-size="14.56">5.00</text>
</g>
<text transform="translate(714.80,227.38) scale(1.177,1)" font-size="11.91" font-style="italic">u</text>
<path d="M723.50,220.2 L725.10,217.3" stroke="#000" stroke-width="0.85" stroke-linecap="round" fill="none"/>
<text transform="translate(722.75,230.30) scale(0.932,1)" font-size="8.97" font-style="italic">i</text>
<line x1="726.30" y1="229.7" x2="729.50" y2="218.5" stroke="#000" stroke-width="1.05"/>
<text transform="translate(729.80,227.38) scale(1.069,1)" font-size="12.47" font-style="italic">U</text>
<path d="M743.95,227.1 C742.75,225.3 741.05,225.3 741.05,227.1 C741.05,228.9 742.75,228.9 743.95,227.1 C745.15,225.3 746.85,225.3 746.85,227.1 C746.85,228.9 745.15,228.9 743.95,227.1 Z" stroke="#000" stroke-width="0.8" fill="none"/>
<rect x="743.00" y="53.5" width="38.4" height="25.0" rx="2.2" fill="#fff" fill-opacity="0.8" stroke="#d6d6d6" stroke-width="1"/>
<circle cx="754.20" cy="60" r="3.3" fill="#0000ff"/>
<rect x="751.05" y="68.75" width="6.3" height="6.3" fill="#ff0000"/>
<text transform="translate(768.56,62.80) scale(1.228,1)" font-size="10.42" font-style="italic">u</text>
<path d="M776.30,58.1 L777.80,55.1" stroke="#000" stroke-width="0.75" stroke-linecap="round" fill="none"/>
<text transform="translate(768.80,74.80) scale(1.151,1)" font-size="10.43" font-style="italic">w</text>
<path d="M778.60,70.1 L780.00,67.1" stroke="#000" stroke-width="0.75" stroke-linecap="round" fill="none"/>
<text transform="translate(39.78,197.72) scale(1.039,1)" font-size="12.50">0</text>
<text transform="translate(39.22,168.76) scale(1.147,1)" font-size="12.50">1</text>
<text transform="translate(39.62,139.80) scale(1.090,1)" font-size="12.50">2</text>
<text transform="translate(39.81,110.84) scale(1.044,1)" font-size="12.50">3</text>
<text transform="translate(40.02,81.88) scale(0.982,1)" font-size="12.50">4</text>
<text transform="translate(39.78,52.92) scale(1.044,1)" font-size="12.50">5</text>
<g class="tt">
<text transform="translate(31.50,130.74) rotate(-90) scale(1.028,1)" font-size="12.51" font-style="italic">z</text>
<line x1="22.9" y1="120.4" x2="31.6" y2="123.0" stroke="#000" stroke-width="1.15"/>
<text transform="translate(31.60,118.40) rotate(-90) scale(0.827,1)" font-size="12.22" font-style="italic">H</text>
</g>
</svg></body></html>
